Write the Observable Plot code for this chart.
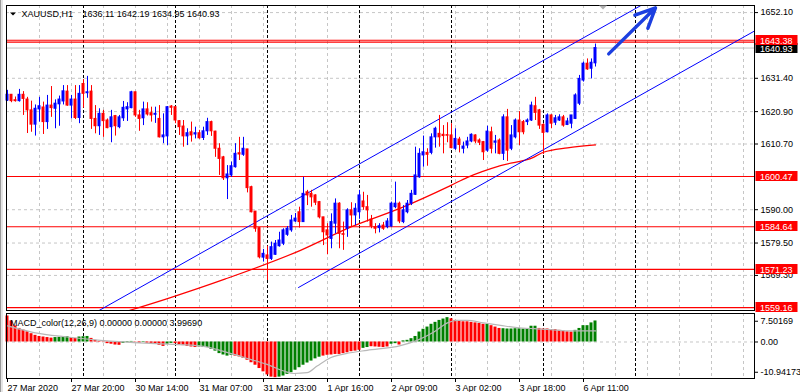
<!DOCTYPE html>
<html><head><meta charset="utf-8">
<script src="https://cdn.jsdelivr.net/npm/d3@7"></script>
<script src="https://cdn.jsdelivr.net/npm/@observablehq/plot@0.6"></script>
<style>
body{margin:0;background:#fff;}
#wrap{position:relative;width:800px;height:392px;overflow:hidden;background:#fff;font-family:"Liberation Sans",Arial,sans-serif;}
#wrap svg{position:absolute;left:0;overflow:visible;}
#edge{position:absolute;left:0;top:0;width:1px;height:392px;background:#9a9a9a;border-right:2px solid #e4e4e4;}
</style></head><body><div id="wrap"><div id="edge"></div></div>
<script>
// ---- price data (H1 candles, index 0 = 27 Mar 04:00) ----
const opens  = [1624.4,1626.2,1624.5,1624.2,1626.2,1624.7,1621.3,1616.8,1621.6,1622.2,1617.6,1622.8,1621.8,1623.2,1624.1,1627.2,1622.8,1624.7,1618.9,1629.6,1626.7,1627.2,1618.6,1616.3,1620.2,1618.1,1616.0,1619.5,1616.0,1618.8,1621.6,1622.0,1627.0,1619.7,1618.8,1621.6,1620.4,1619.9,1618.6,1612.8,1613.1,1622.5,1622.3,1617.9,1616.2,1613.1,1614.4,1613.7,1614.1,1612.6,1614.7,1617.6,1614.6,1609.2,1606.5,1599.9,1600.8,1603.4,1607.8,1607.3,1609.0,1597.1,1589.4,1584.2,1574.9,1575.6,1574.5,1575.8,1578.5,1579.3,1582.1,1583.5,1586.3,1589.2,1586.1,1595.5,1595.0,1594.5,1592.4,1587.6,1583.5,1580.8,1585.6,1591.9,1582.3,1584.0,1589.8,1588.2,1589.2,1592.6,1590.8,1586.9,1584.5,1584.2,1585.0,1584.5,1584.7,1590.8,1591.9,1586.1,1589.2,1591.9,1594.7,1600.2,1607.1,1607.9,1607.9,1612.8,1613.9,1613.6,1613.5,1613.4,1609.2,1612.1,1609.2,1610.2,1611.5,1613.4,1611.8,1611.3,1608.6,1614.4,1611.1,1611.8,1607.6,1619.1,1609.2,1612.8,1618.1,1617.6,1617.6,1618.1,1622.6,1621.3,1616.7,1614.4,1619.7,1617.4,1618.1,1619.1,1616.7,1617.1,1618.6,1623.4,1630.7,1636.0,1634.4,1636.11];
const highs  = [1627.6,1626.3,1625.5,1627.9,1627.2,1625.4,1624.2,1623.0,1625.4,1623.9,1626.0,1628.8,1624.6,1625.8,1629.1,1629.1,1626.0,1629.1,1629.1,1631.0,1632.0,1629.1,1622.8,1621.8,1621.3,1618.6,1621.3,1619.7,1619.7,1624.1,1623.7,1627.3,1627.0,1621.3,1623.9,1623.7,1622.3,1622.3,1622.8,1620.2,1622.5,1622.8,1622.5,1618.1,1618.1,1615.5,1617.6,1616.0,1615.0,1616.0,1618.8,1617.9,1614.7,1610.8,1606.8,1603.9,1605.0,1610.8,1612.8,1612.8,1609.0,1597.4,1589.4,1584.2,1577.5,1578.5,1579.8,1580.3,1582.9,1584.0,1584.7,1588.2,1588.8,1590.8,1600.2,1596.1,1596.1,1594.7,1592.6,1587.6,1585.6,1588.7,1593.4,1592.2,1586.1,1590.3,1592.2,1591.9,1596.1,1595.5,1594.5,1588.2,1585.6,1585.6,1586.0,1587.2,1592.4,1598.7,1592.4,1591.3,1592.9,1596.1,1609.7,1609.2,1613.2,1609.2,1613.9,1616.0,1619.7,1616.5,1617.4,1617.1,1615.5,1612.8,1611.3,1612.8,1613.9,1613.6,1612.3,1611.5,1616.3,1616.0,1613.4,1612.3,1619.9,1621.6,1616.5,1618.6,1620.9,1618.1,1618.6,1623.9,1625.4,1621.6,1617.1,1620.2,1619.9,1619.7,1619.9,1619.7,1618.8,1619.7,1626.5,1632.3,1636.5,1637.5,1637.5,1642.19];
const lows   = [1624.1,1623.7,1623.9,1623.9,1619.7,1614.0,1614.4,1613.2,1617.6,1613.7,1615.3,1619.1,1615.5,1616.3,1623.0,1622.6,1618.6,1618.4,1617.1,1622.0,1625.1,1615.3,1613.9,1613.4,1612.8,1615.5,1611.1,1613.2,1615.5,1617.8,1617.8,1621.8,1619.1,1614.7,1616.5,1619.5,1617.6,1617.2,1612.6,1610.8,1610.2,1619.7,1617.1,1613.4,1609.7,1610.2,1611.3,1612.3,1612.2,1611.8,1613.4,1613.1,1606.5,1600.8,1599.2,1593.2,1600.2,1603.1,1605.5,1606.8,1595.3,1589.0,1582.9,1574.5,1573.5,1567.7,1574.0,1575.6,1578.2,1578.7,1581.6,1582.9,1586.0,1584.2,1586.0,1591.3,1590.8,1591.3,1587.1,1578.7,1575.8,1577.7,1582.4,1577.7,1577.2,1581.3,1584.5,1585.0,1587.0,1589.8,1586.1,1584.0,1582.4,1582.7,1583.5,1584.0,1584.5,1590.3,1585.6,1585.6,1588.7,1591.3,1594.5,1599.9,1603.4,1603.7,1607.3,1609.4,1609.7,1607.6,1611.1,1609.2,1608.7,1607.9,1607.6,1609.2,1611.1,1610.8,1610.2,1605.5,1608.1,1607.6,1607.6,1607.3,1605.5,1605.2,1608.6,1612.3,1610.2,1613.6,1616.5,1617.8,1618.1,1615.3,1607.4,1614.2,1615.5,1616.5,1617.8,1616.0,1616.5,1615.5,1618.4,1622.8,1630.2,1633.9,1631.2,1634.95];
const closes = [1626.2,1624.2,1624.2,1626.2,1624.9,1621.3,1616.8,1621.8,1622.6,1617.6,1622.8,1622.0,1623.4,1624.7,1627.3,1622.8,1624.7,1618.9,1626.5,1626.5,1627.0,1618.6,1616.3,1620.2,1617.9,1615.7,1619.1,1616.3,1619.1,1622.1,1622.3,1627.0,1619.7,1618.6,1621.6,1620.0,1619.7,1620.2,1612.8,1613.4,1622.3,1622.1,1618.1,1616.0,1613.1,1614.1,1613.4,1614.1,1612.5,1614.7,1617.6,1614.7,1609.2,1606.0,1599.9,1601.1,1603.7,1607.6,1607.4,1609.2,1596.8,1589.2,1584.0,1575.0,1576.1,1574.5,1578.2,1579.3,1580.3,1583.5,1584.0,1586.6,1587.2,1586.1,1595.0,1594.5,1593.9,1592.2,1587.6,1582.9,1581.9,1586.1,1591.9,1582.4,1582.1,1589.8,1588.2,1590.3,1594.5,1590.8,1589.8,1584.8,1584.0,1584.8,1584.0,1586.3,1591.9,1591.9,1586.3,1589.8,1591.9,1595.0,1600.8,1607.6,1608.1,1607.3,1612.8,1615.5,1612.8,1613.2,1613.3,1609.4,1612.3,1610.4,1609.9,1611.5,1613.6,1611.5,1611.1,1608.1,1614.6,1609.2,1611.5,1607.6,1619.1,1608.6,1613.4,1618.1,1614.4,1614.4,1618.1,1622.8,1620.5,1616.5,1614.2,1619.7,1617.1,1618.8,1619.1,1616.5,1617.8,1619.7,1626.0,1631.2,1636.0,1634.2,1636.3,1640.93];

// ---- MACD_color(12,26,9) histogram and its colour (1 = green, 0 = red) ----
const macdHist = [9.4,7.6,5.8,4.9,4.3,3.7,3.0,2.4,2.0,1.8,1.6,1.4, 1.6,1.7,1.8,1.9, 1.6,1.3, 1.8,1.9,2.0, 1.3,0.6,0.2,-0.1,-0.6,-0.8,-1.1,-1.2, -0.5,-0.2,0.2, -0.1,-0.4, -0.2, -0.4,-0.5,-0.6,-1.2,-1.6, -0.8,-0.5, -0.6,-1.0,-1.3,-1.6,-1.8,-2.0, -1.8,-2.0,-2.0,-2.7,-3.3,-4.2,-4.7,-5.1,-4.8, -5.1,-5.4,-5.9,-6.6,-7.5,-8.4,-9.6,-10.8,-11.9,-12.7,-12.9, -12.7,-12.3,-11.7,-11.1,-10.2,-9.3,-8.4,-7.6,-6.9,-6.1,-5.5, -5.1,-4.8,-4.7,-4.5,-4.5,-4.2,-3.9,-3.5,-3.3,-3.0, -2.3,-2.0, -1.7,-1.8,-1.9,-2.0,-1.8, -0.8,-0.6, -1.1, 0.4,0.6,1.2,2.0,3.6,4.6,5.4,6.4,7.1,7.8,8.3,8.8, 8.4,7.8,7.6,7.3,7.3,7.1,6.9,6.7,6.4, 6.4, 5.9,5.4,4.9, 4.8,4.7,4.7,4.8,4.8,4.7,4.8,5.7,5.7, 4.9,4.7,4.7,4.5,4.5,4.2,4.0,3.7,3.6, 4.2,4.9,5.9,5.9,6.9,7.6];
const macdUp = [0,0,0,0,0,0,0,0,0,0,0,0, 1,1,1,1, 0,0, 1,1,1, 0,0,0,0,0,0,0,0, 1,1,1, 0,0, 1, 0,0,0,0,0, 1,1, 0,0,0,0,0,0, 1,1,1,1,1,1,1,1,1, 0,0,0,0,0,0,0,0,0,0,0, 1,1,1,1,1,1,1,1,1,1,1, 0,0,0,0,0,0,0,0,0,0, 1,1, 0,0,0,0,0, 1,1, 0, 1,1,1,1,1,1,1,1,1,1,1,1, 0,0,0,0,0,0,0,0,0, 1, 0,0,0, 1,1,1,1,1,1,1,1,1, 0,0,0,0,0,0,0,0,0, 1,1,1,1,1,1];
const signalIdx = [0,6.6,14.9,23.25,31.6,40,48.25,56.6,60.75,64.9,69.1,71.6,74.9,77.4,80.75,85.75,89.9,98.25,102.4,106.6,110,112.4,114.9,119,123.25,127.4,131.6,135.75,139.9,143.25,147];
const signalVal = [5.8,3.4,1.8,0.6,-0.2,-0.8,-1.4,-4.5,-6.3,-8.1,-10.5,-11.4,-11.1,-8.7,-5.7,-3.9,-3.0,-1.3,0.6,3.6,6.9,7.8,7.8,6.9,6.0,5.2,4.8,4.5,4.0,4.0,4.0];

// ---- overlays ----
const maIdx   = [28,40,54.5,73.25,85.75,98.25,110.75,115,123.25,131.5,134,140,147];
const maVal   = [1557.3,1562.0,1568.2,1577.2,1584.5,1590.5,1597.6,1600.2,1603.9,1606.5,1608.1,1609.5,1610.4];
const upperChIdx = [20,160], upperChVal = [1556.2,1655.5];
const lowerChIdx = [72.75,190], lowerChVal = [1565.5,1648.6];
const arrowFrom = [150.3,1639.1], arrowTo = [162,1653.6];
const redLevels = [1643.38,1600.47,1584.64,1571.23,1559.16];
const extraRedLine = [1642.80];
const bidPrice = 1640.93;

// ---- axes / ticks ----
const yGrid = [1652.10,1631.40,1620.90,1610.70,1590.00,1579.50,1569.30];
const yLabels = [1652.10,1631.40,1620.90,1610.70,1590.00,1579.50,1569.30];
const macdTicks = [7.50169,0,-10.94173];
const macdTickLabels = ["7.50169","0.00","-10.94173"];
const xTickIdx = [0,16,32,48,64,80,96,112,128,144];
const xTickLabels = ["27 Mar 2020","27 Mar 20:00","30 Mar 14:00","31 Mar 07:00","31 Mar 23:00","1 Apr 16:00","2 Apr 09:00","3 Apr 02:00","3 Apr 18:00","6 Apr 11:00"];
const xGrid = [8,16,24,32,40,48,56,64,72,80,88,96,104,112,120,128,136,144,152,160,168,176,184];
const daySeparators = [19,42,65,88,111,134,157];
const shiftMarkIdx = 149;
const titleSymbol = "XAUUSD,H1", titleOHLC = "1636.11 1642.19 1634.95 1640.93";
const macdTitle = "MACD_color(12,26,9) 0.00000 0.00000 3.99690";

const xDomain = [-0.25, 186.75];
const BULL = "#0000ff", BEAR = "#ff0000", GRID = "#c6c6c6";
const font = "'Liberation Sans', Arial, sans-serif";

const candles = opens.map((o,i)=>({i, o, h:highs[i], l:lows[i], c:closes[i]}));
const hist = macdHist.map((v,i)=>({i, v, up:macdUp[i]}));
const signal = signalIdx.map((x,k)=>({x, y:signalVal[k]}));
const ma = maIdx.map((x,k)=>({x, y:maVal[k]}));
const up = upperChIdx.map((x,k)=>({x, y:upperChVal[k]}));
const lo = lowerChIdx.map((x,k)=>({x, y:lowerChVal[k]}));

const main = Plot.plot({
  width: 800, height: 312,
  marginLeft: 6, marginRight: 46, marginTop: 5, marginBottom: 2,
  x: {domain: xDomain, axis: null},
  y: {domain: [1558.25, 1654.33], axis: null},
  style: {fontFamily: font, fontSize: "9px", background: "transparent", color: "#000"},
  marks: [
    Plot.ruleX(xGrid, {stroke: GRID, strokeDasharray: "3,3"}),
    Plot.ruleY(yGrid, {stroke: GRID, strokeDasharray: "3,3"}),
    Plot.ruleX(daySeparators, {stroke: "#000", strokeDasharray: "3,2"}),
    Plot.ruleY([bidPrice], {stroke: "#c0c0c0"}),
    Plot.ruleY(redLevels, {stroke: "#ff0000", strokeWidth: 1.2}),
    Plot.ruleY(extraRedLine, {stroke: "#ff0000", strokeWidth: 1.2}),
    Plot.line(ma, {x: "x", y: "y", stroke: "#ff0000", strokeWidth: 1.2, curve: "monotone-x", clip: true}),
    Plot.line(up, {x: "x", y: "y", stroke: "#0000ff", strokeWidth: 1, clip: true}),
    Plot.line(lo, {x: "x", y: "y", stroke: "#0000ff", strokeWidth: 1, clip: true}),
    Plot.ruleX(candles, {x: "i", y1: "l", y2: "h", stroke: d => d.c >= d.o ? BULL : BEAR}),
    Plot.rect(candles, {x1: d => d.i - 0.375, x2: d => d.i + 0.375, y1: "o", y2: "c",
      fill: d => d.c >= d.o ? BULL : BEAR, insetTop: -0.5, insetBottom: -0.5}),
    Plot.arrow([0], {x1: () => arrowFrom[0], y1: () => arrowFrom[1], x2: () => arrowTo[0], y2: () => arrowTo[1],
      stroke: "#1c3fe0", strokeWidth: 3.4, headLength: 12, headAngle: 50, bend: 0}),
    Plot.frame({stroke: "#000"}),
    Plot.axisY(yLabels, {anchor: "right", label: null, tickSize: 3, tickPadding: 3, tickFormat: d => d.toFixed(2), fontSize: 9})
  ]
});
main.style.top = "0px";

const macd = Plot.plot({
  width: 800, height: 82,
  marginLeft: 6, marginRight: 46, marginTop: 3, marginBottom: 14,
  x: {domain: xDomain, axis: null},
  y: {domain: [-13.2, 10.3], axis: null},
  style: {fontFamily: font, fontSize: "9px", background: "transparent", color: "#000"},
  marks: [
    Plot.ruleX(xGrid, {stroke: GRID, strokeDasharray: "3,3"}),
    Plot.ruleY([0], {stroke: GRID, strokeDasharray: "3,3"}),
    Plot.ruleX(daySeparators, {stroke: "#000", strokeDasharray: "3,2"}),
    Plot.rect(hist, {x1: d => d.i - 0.375, x2: d => d.i + 0.375, y1: 0, y2: "v",
      fill: d => d.up ? "#008000" : "#ff0000"}),
    Plot.line(signal, {x: "x", y: "y", stroke: "#b8b8b8", strokeWidth: 1.2, curve: "monotone-x"}),
    Plot.frame({stroke: "#000"}),
    Plot.axisY(macdTicks, {anchor: "right", label: null, tickSize: 3, tickPadding: 3,
      tickFormat: d => macdTickLabels[macdTicks.indexOf(d)], fontSize: 9}),
    Plot.axisX(xTickIdx, {anchor: "bottom", label: null, tickSize: 4, tickPadding: 2, textAnchor: "start",
      tickFormat: d => xTickLabels[xTickIdx.indexOf(d)], fontSize: 9})
  ]
});
macd.style.top = "310px";

const wrap = document.getElementById("wrap");
wrap.appendChild(main);
wrap.appendChild(macd);

// title and price boxes, positioned with the plot's own scales
const ys = main.scale("y"), xs = main.scale("x");
const s = d3.select(main);
const g = s.append("g").attr("font-family", font).attr("font-size", 9).attr("text-anchor", "start");
function box(p, fill){
  const y = ys.apply(p);
  g.append("rect").attr("x", 755.5).attr("y", Math.round(y) - 5).attr("width", 42).attr("height", 10).attr("fill", fill);
  g.append("text").attr("x", 760).attr("y", Math.round(y) + 3.5).attr("fill", "#fff").text(p.toFixed(2));
}
box(bidPrice, "#000");
redLevels.forEach(p => box(p, "#ff0000"));
// chart-shift marker
const sx = xs.apply(shiftMarkIdx);
g.append("path").attr("d", `M${sx-4},5.5 L${sx+4},5.5 L${sx},9.5 Z`).attr("fill", "#b0b0b0");
// title
g.append("path").attr("d", "M10,12.5 L16,12.5 L13,15.5 Z").attr("fill", "#000");
g.append("text").attr("x", 21.5).attr("y", 17).attr("fill", "#000").text(titleSymbol);
g.append("text").attr("x", 82.5).attr("y", 17).attr("fill", "#000").text(titleOHLC);
d3.select(macd).append("text").attr("x", 10).attr("y", 16).attr("text-anchor", "start")
  .attr("font-family", font).attr("font-size", 9).attr("fill", "#000").text(macdTitle);
</script>
</body></html>
